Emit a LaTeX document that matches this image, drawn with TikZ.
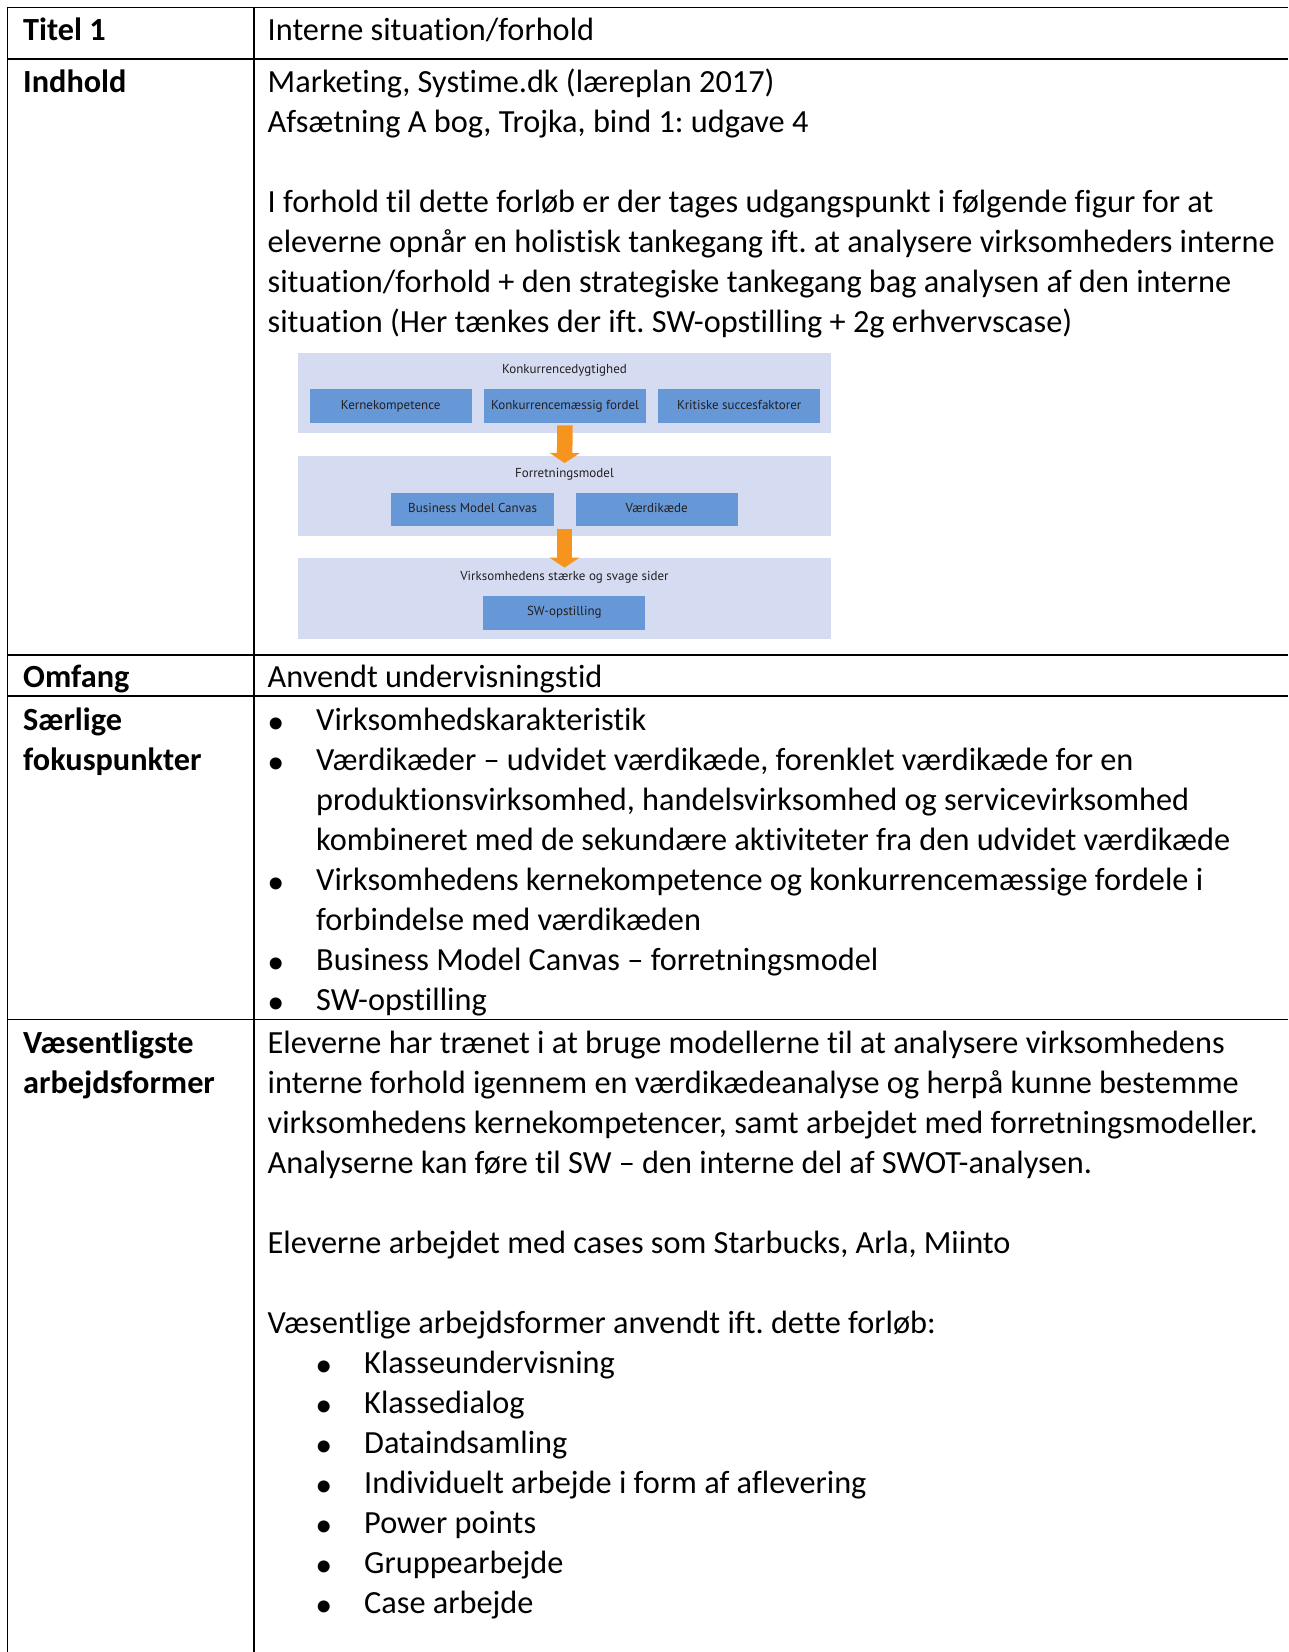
\documentclass[tikz,border=0pt]{standalone}
\usepackage{fontspec}
\setmainfont{Carlito}[Ligatures=NoCommon]
\newfontfamily\figfont{PT Sans}[Ligatures=NoCommon]
\newfontfamily\bulfont{Liberation Sans}
\usetikzlibrary{arrows.meta,positioning}
\definecolor{bandblue}{RGB}{213,219,241}
\definecolor{boxblue}{RGB}{102,151,214}
\definecolor{arrorange}{RGB}{247,148,30}
\definecolor{figtext}{RGB}{35,31,32}
\newcommand{\bodyfont}{\fontsize{32.3}{40}\selectfont\frenchspacing}
\newcommand{\figsize}{\fontsize{13}{15}\selectfont}

\begin{document}
\begin{tikzpicture}[x=1pt,y=-1pt,
  rule/.style={line width=1.8pt},
  txt/.style={anchor=north west,inner sep=0pt,align=left,font=\bodyfont},
  head/.style={txt,font=\bodyfont\bfseries},
  bul/.style={txt,yshift=-7.3pt,font=\fontsize{44}{40}\selectfont\bulfont},
  band/.style={fill=bandblue,minimum width=533pt,minimum height=80.5pt,inner sep=0pt},
  ftitle/.style={anchor=base,inner sep=0pt,font=\figfont\figsize,text=figtext},
  fbox/.style={fill=boxblue,minimum width=162.3pt,minimum height=33.7pt,inner sep=0pt,
    text height=9.5pt,text depth=3pt,font=\figfont\figsize,text=figtext},
  flow/.style={arrorange,line width=15.5pt,
    -{Triangle[width=30pt,length=10pt,line width=0pt]}}
]
\useasboundingbox (0,0) rectangle (1288,1652);

% table rules
\draw[rule] (7.5,7.4) -- (1288,7.4);
\draw[rule] (7.5,58.7) -- (1288,58.7);
\draw[rule] (7.5,655.3) -- (1288,655.3);
\draw[rule] (7.5,696) -- (1288,696);
\draw[rule] (7.5,1019.5) -- (1288,1019.5);
\draw[rule] (7.5,6.5) -- (7.5,1652);
\draw[rule] (254,6.5) -- (254,1652);

% left column
\node[head] (titel) at (23,12.5) {\strut Titel 1};
\node[head] (indhold) at (23,64.6) {\strut Indhold};
\node[head] (omfang) at (23,659.6) {\strut Omfang};
\node[head] (saerlige) at (23,702.6) {\strut Særlige\\fokuspunkter};
\node[head] (vaesentligste) at (23,1025.5) {\strut Væsentligste\\arbejdsformer};

% right column
\node[txt] (interne) at (267.5,12.5) {\strut Interne situation/forhold};
\node[txt] (indholdtxt) at (267.5,64.6) {\strut Marketing, Systime.dk (læreplan 2017)\\
  Afsætning A bog, Trojka, bind 1: udgave 4\\ \\
  I forhold til dette forløb er der tages udgangspunkt i følgende figur for at\\
  eleverne opnår en holistisk tankegang ift. at analysere virksomheders interne\\
  situation/forhold + den strategiske tankegang bag analysen af den interne\\
  situation (Her tænkes der ift. SW-opstilling + 2g erhvervscase)};
\node[txt] (anvendt) at (267.5,659.6) {\strut Anvendt undervisningstid};
\node[bul] (fokusbul) at (268,702.6) {\strut •\\•\\ \\ \\•\\ \\•\\•};
\node[txt] (fokustxt) at (316,702.6) {\strut Virksomhedskarakteristik\\
  Værdikæder – udvidet værdikæde, forenklet værdikæde for en\\
  produktionsvirksomhed, handelsvirksomhed og servicevirksomhed\\
  kombineret med de sekundære aktiviteter fra den udvidet værdikæde\\
  Virksomhedens kernekompetence og konkurrencemæssige fordele i\\
  forbindelse med værdikæden\\
  Business Model Canvas – forretningsmodel\\
  SW-opstilling};
\node[txt] (arbejdtxt) at (267.5,1025.5) {\strut Eleverne har trænet i at bruge modellerne til at analysere virksomhedens\\
  interne forhold igennem en værdikædeanalyse og herpå kunne bestemme\\
  virksomhedens kernekompetencer, samt arbejdet med forretningsmodeller.\\
  Analyserne kan føre til SW – den interne del af SWOT-analysen.\\ \\
  Eleverne arbejdet med cases som Starbucks, Arla, Miinto\\ \\
  Væsentlige arbejdsformer anvendt ift. dette forløb:};
\node[bul] (formbul) at (315.8,1345.5) {\strut •\\•\\•\\•\\•\\•\\•};
\node[txt] (formtxt) at (364,1345.5) {\strut Klasseundervisning\\Klassedialog\\Dataindsamling\\
  Individuelt arbejde i form af aflevering\\Power points\\Gruppearbejde\\Case arbejde};

% figure
\node[band] (band1) at (564.5,392.75) {};
\node[band] (band2) at (564.5,495.9) {};
\node[band] (band3) at (564.5,598.7) {};
\node[ftitle] (konkdyg) at ([yshift=-21.5pt]band1.north) {Konkurrencedygtighed};
\node[ftitle] (forretn) at ([yshift=-22pt]band2.north) {Forretningsmodel};
\node[ftitle] (staerke) at ([yshift=-22.5pt]band3.north) {Virksomhedens stærke og svage sider};
\node[fbox] (kerne) at (390.7,405.8) {Kernekompetence};
\node[fbox,right=11.6pt of kerne] (konk) {Konkurrencemæssig fordel};
\node[fbox,right=11.6pt of konk] (kritisk) {Kritiske succesfaktorer};
\node[fbox] (bmc) at (472.6,509.5) {Business Model Canvas};
\node[fbox,right=21.4pt of bmc] (vaerdi) {Værdikæde};
\node[fbox] (sw) at (564.3,612.7) {SW-opstilling};
\draw[flow] ([yshift=-2.5pt]konk.south) -- ([yshift=-7.6pt]band2.north);
\draw[flow] ([yshift=-2.5pt]bmc.south -| band2.center) -- ([yshift=-9.4pt]band3.north);
\end{tikzpicture}
\end{document}
